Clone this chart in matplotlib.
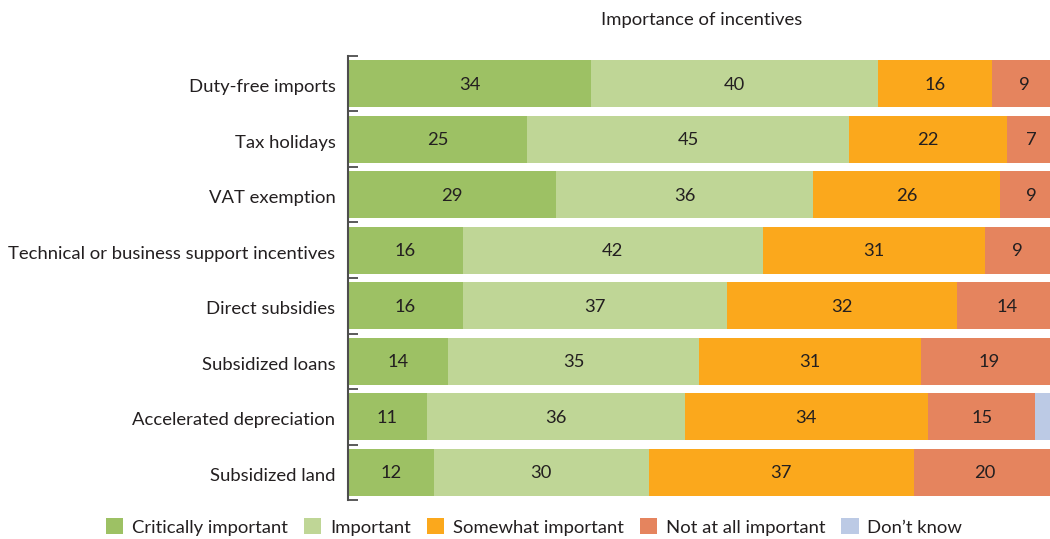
import matplotlib
matplotlib.use("Agg")
import matplotlib.pyplot as plt
from matplotlib.patches import Patch
import numpy as np

plt.rcParams['font.family'] = ['Lato', 'DejaVu Sans']

categories = [
    "Duty-free imports",
    "Tax holidays",
    "VAT exemption",
    "Technical or business support incentives",
    "Direct subsidies",
    "Subsidized loans",
    "Accelerated depreciation",
    "Subsidized land",
]
series_names = ["Critically important", "Important", "Somewhat important",
                "Not at all important", "Don\u2019t know"]
critically = [34, 25, 29, 16, 16, 14, 11, 12]
important = [40, 45, 36, 42, 37, 35, 36, 30]
somewhat = [16, 22, 26, 31, 32, 31, 34, 37]
not_at_all = [9, 7, 9, 9, 14, 19, 15, 20]
dont_know = [0, 0, 0, 0, 0, 0, 4, 0]

colors = ["#9dc164", "#bfd696", "#fba81c", "#e5845e", "#bccae5"]
text_color = "#231f20"

fig = plt.figure(figsize=(10.5, 5.39), dpi=100)
W, H = 1050, 539
ax = fig.add_axes([348 / W, 1 - 500 / H, 716 / W, 444 / H])

y = np.arange(len(categories))
left = np.zeros(len(categories))
for vals, col in zip([critically, important, somewhat, not_at_all, dont_know], colors):
    vals = np.array(vals, dtype=float)
    ax.barh(y, vals, left=left, height=0.845, color=col, linewidth=0)
    for yi, (l, v) in enumerate(zip(left, vals)):
        if v >= 5:
            ax.text(l + v / 2, yi + 0.02, f"{int(v)}", ha="center", va="center",
                    fontsize=13.2, color=text_color)
    left += vals

ax.set_xlim(0, 100)
ax.set_ylim(len(categories) - 0.5, -0.5)
ax.set_yticks(y + 0.04)
ax.set_yticklabels(categories, fontsize=13.3, color=text_color)
ax.set_yticks(np.arange(-0.5, len(categories)), minor=True)
ax.tick_params(axis="y", which="major", length=0, pad=9)
ax.tick_params(axis="y", which="minor", length=7, width=1.3, direction="in", color="#4d4d4d")
ax.set_xticks([])
for s in ["top", "right", "bottom"]:
    ax.spines[s].set_visible(False)
ax.spines["left"].set_color("#4d4d4d")
ax.spines["left"].set_linewidth(1.5)

fig.text(702 / W, 1 - 20 / H, "Importance of incentives", ha="center", va="center",
         fontsize=13.3, color=text_color, family=["Liberation Sans Narrow", "Lato"])

handles = [Patch(facecolor=c, edgecolor="none") for c in colors]
fig.legend(handles, series_names, loc="center", bbox_to_anchor=(534 / W, 1 - 527 / H),
           ncol=5, frameon=False, fontsize=13.3, handlelength=0.95, handleheight=0.95,
           handletextpad=0.45, columnspacing=0.88, labelcolor=text_color)

fig.savefig("out.png", dpi=100)
